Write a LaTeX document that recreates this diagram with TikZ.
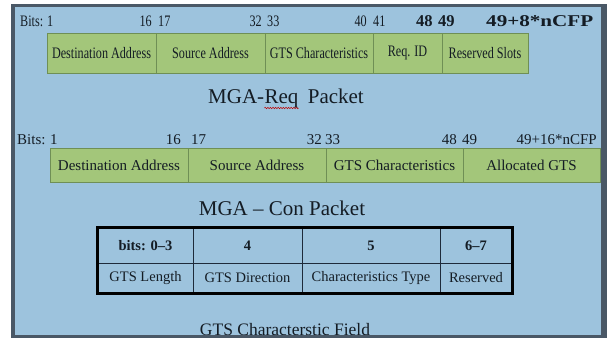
\documentclass[tikz,border=0pt]{standalone}
\usepackage{fontspec}
\usepackage{graphicx}
\setmainfont{Liberation Serif}
\newfontfamily\condserif[FakeStretch=0.76]{Liberation Serif}
\usetikzlibrary{decorations.pathmorphing}

\definecolor{panelbg}{HTML}{9DC3DD}
\definecolor{panelrim}{HTML}{4A5866}
\definecolor{fieldgreen}{HTML}{A3C67A}
\definecolor{fieldrim}{HTML}{6F8F55}
\definecolor{inktext}{HTML}{141C24}
\definecolor{gridline}{HTML}{1E2A3A}

\tikzset{
  field/.style={draw=fieldrim, fill=fieldgreen, line width=0.9pt, inner sep=0pt,
                text=inktext, anchor=center},
  reqfield/.style={field, minimum height=40pt, font=\condserif\fontsize{16}{18}\selectfont},
  confield/.style={field, minimum height=34pt, font=\fontsize{15}{17}\selectfont},
  reqbit/.style={inner sep=0pt, text=inktext, font=\condserif\fontsize{16}{18}\selectfont},
  reqbitbold/.style={inner sep=0pt, text=inktext, font=\bfseries\fontsize{16.5}{18}\selectfont},
  conbit/.style={inner sep=0pt, text=inktext, font=\fontsize{15}{17}\selectfont},
  caption/.style={inner sep=0pt, text=inktext, font=\fontsize{21}{24}\selectfont},
  cell/.style={draw=gridline, line width=0.9pt, inner sep=0pt, text=inktext,
               font=\fontsize{14.5}{16}\selectfont},
  headcell/.style={cell, minimum height=35pt, font=\bfseries\fontsize{14.5}{16}\selectfont},
  bodycell/.style={cell, minimum height=30pt},
}

\begin{document}
\begin{tikzpicture}[x=1pt, y=-1pt]
\useasboundingbox (0,0) rectangle (612,338);

% panel with dark rim
\fill[white] (0,0) rectangle (612,338);
\fill[panelrim] (11,4) rectangle (607,338);
\fill[panelbg] (15,7) rectangle (601,335);

% ---------- MGA-Req packet ----------
\node[reqbit, anchor=base west] (rb0) at (20,26) {Bits: 1};
\node[reqbit, anchor=base east] (rb16) at (152,26) {16};
\node[reqbit, anchor=base west] (rb17) at (158,26) {17};
\node[reqbit, anchor=base east] (rb32) at (262,26) {32};
\node[reqbit, anchor=base west] (rb33) at (267,26) {33};
\node[reqbit, anchor=base east] (rb40) at (367,26) {40};
\node[reqbit, anchor=base west] (rb41) at (373,26) {41};
\node[reqbitbold, anchor=base west] (rb48) at (416,26) {48};
\node[reqbitbold, anchor=base west] (rb49) at (438,26) {49};
\node[reqbitbold, anchor=base west] (rbend) at (486,26) {\scalebox{1.28}[1]{49+8*nCFP}};

\node[reqfield, minimum width=109pt] (rq1) at (101.5,53) {Destination Address};
\node[reqfield, minimum width=109pt] (rq2) at (210.5,53) {Source Address};
\node[reqfield, minimum width=108pt] (rq3) at (319,53) {GTS Characteristics};
\node[reqfield, minimum width=69pt]  (rq4) at (407.5,53) {Req. ID};
\node[reqfield, minimum width=86pt]  (rq5) at (485,53) {Reserved Slots};

\node[caption, anchor=base west] (t1a) at (208,103) {MGA-};
\node[caption, anchor=base west] (t1b) at (t1a.base east) {Req};
\node[caption, anchor=base west, xshift=9pt] (t1c) at (t1b.base east) {Packet};
\draw[red!75!black, line width=0.5pt, decorate,
      decoration={snake, amplitude=0.7pt, segment length=2.6pt}]
  ([yshift=-5pt]t1b.base west) -- ([yshift=-5pt]t1b.base east);

% ---------- MGA-Con packet ----------
\node[conbit, anchor=base west] (cb0) at (17,144) {Bits:};
\node[conbit, anchor=base west] (cb1) at (50,144) {1};
\node[conbit, anchor=base east] (cb16) at (181,144) {16};
\node[conbit, anchor=base west] (cb17) at (191,144) {17};
\node[conbit, anchor=base east] (cb32) at (322,144) {32};
\node[conbit, anchor=base west] (cb33) at (325,144) {33};
\node[conbit, anchor=base east] (cb48) at (457,144) {48};
\node[conbit, anchor=base west] (cb49) at (462,144) {49};
\node[conbit, anchor=base east] (cbend) at (597,144) {49+16*nCFP};

\node[confield, minimum width=138pt] (cn1) at (119,165) {Destination Address};
\node[confield, minimum width=138pt] (cn2) at (257,165) {Source Address};
\node[confield, minimum width=137pt] (cn3) at (394.5,165) {GTS Characteristics};
\node[confield, minimum width=137pt] (cn4) at (531.5,165) {Allocated GTS};

\node[caption, anchor=base] (t2) at (282,215) {MGA -- Con Packet};

% ---------- GTS characteristics field ----------
\node[headcell, minimum width=95pt]  (h1) at (145.5,245.5) {bits: 0--3};
\node[headcell, minimum width=109pt] (h2) at (247.5,245.5) {4};
\node[headcell, minimum width=138pt] (h3) at (371,245.5) {5};
\node[headcell, minimum width=72pt]  (h4) at (476,245.5) {6--7};
\node[bodycell, minimum width=95pt]  (b1) at (145.5,278) {GTS Length};
\node[bodycell, minimum width=109pt] (b2) at (247.5,278) {GTS Direction};
\node[bodycell, minimum width=138pt] (b3) at (371,278) {Characteristics Type};
\node[bodycell, minimum width=72pt]  (b4) at (476,278) {Reserved};
\draw[black, line width=2.6pt] (h1.north west) rectangle (b4.south east);

\node[inner sep=0pt, text=inktext, font=\fontsize{17.5}{20}\selectfont, anchor=base]
  (t3) at (285,335) {GTS Characterstic Field};

% bottom rim drawn last so it clips the caption
\fill[panelrim] (11,335) rectangle (607,338);
\end{tikzpicture}
\end{document}
